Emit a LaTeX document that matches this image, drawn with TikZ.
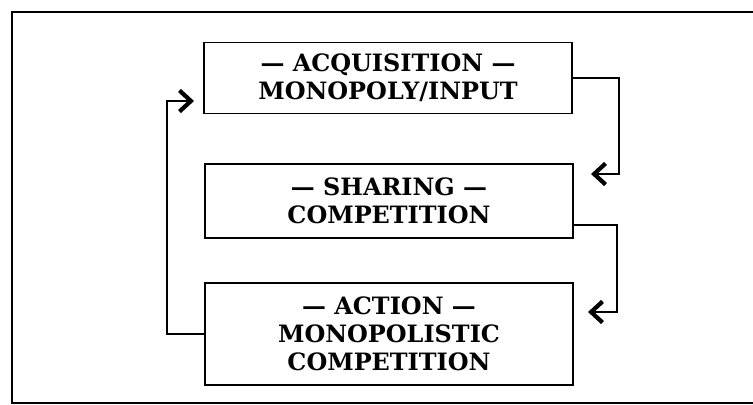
\documentclass[tikz,border=0pt]{standalone}
\usepackage{fontspec}
\setmainfont{DejaVu Serif}
\usetikzlibrary{arrows.meta}

\begin{document}
\begin{tikzpicture}[
    x=0.02cm, y=-0.02cm,
    stage/.style={draw,line width=1pt,minimum width=7.36cm,align=center,
      font=\bfseries\fontsize{13.6}{16}\selectfont,inner sep=2pt},
    flow/.style={line width=1pt,-{Straight Barb[length=6.5pt,width=12pt,line width=2.4pt]}}
]
\useasboundingbox (0,0) rectangle (753,405);
\draw[line width=1pt] (12,12) rectangle (780,403);

\node[stage,minimum height=1.42cm] (acq)   at (388,78)  {--- ACQUISITION ---\\MONOPOLY/INPUT};
\node[stage,minimum height=1.48cm] (share) at (389,201) {--- SHARING ---\\COMPETITION};
\node[stage,minimum height=2.04cm] (act)   at (389,334) {--- ACTION ---\\MONOPOLISTIC\\COMPETITION};

\coordinate (in1) at (194,101);
\coordinate (in2) at (591,174);
\coordinate (in3) at (588,312);

\draw[flow] (acq.east) -- ++(46,0) |- (in2);
\draw[flow] ([yshift=-0.48cm]share.east) -- ++(43,0) |- (in3);
\draw[flow] (act.west) -- ++(-37,0) |- (in1);
\end{tikzpicture}
\end{document}
